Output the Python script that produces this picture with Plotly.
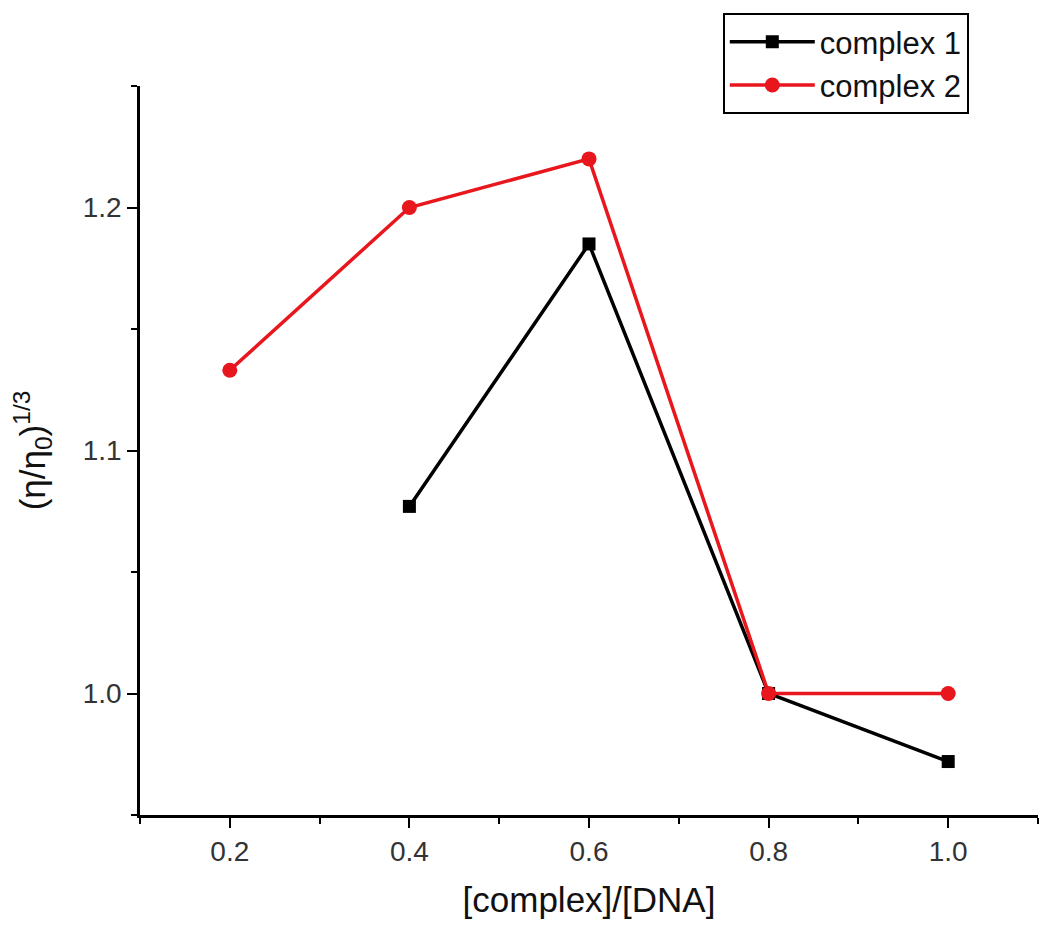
import plotly.graph_objects as go

# data
ratio_1 = [0.4, 0.6, 0.8, 1.0]
visc_1 = [1.077, 1.185, 1.0, 0.972]

ratio_2 = [0.2, 0.4, 0.6, 0.8, 1.0]
visc_2 = [1.133, 1.200, 1.220, 1.0, 1.0]

x_ticks = [0.2, 0.4, 0.6, 0.8, 1.0]
x_labels = ["0.2", "0.4", "0.6", "0.8", "1.0"]
y_ticks = [1.0, 1.1, 1.2]
y_labels = ["1.0", "1.1", "1.2"]

COLOR_1 = "#000000"
COLOR_2 = "#e8161d"
FONT = "Liberation Sans, Arial, sans-serif"

fig = go.Figure()

fig.add_trace(go.Scatter(
    x=ratio_1, y=visc_1,
    mode="lines+markers",
    name="complex 1",
    line=dict(color=COLOR_1, width=3.5),
    marker=dict(symbol="square", size=13, color=COLOR_1),
))

fig.add_trace(go.Scatter(
    x=ratio_2, y=visc_2,
    mode="lines+markers",
    name="complex 2",
    line=dict(color=COLOR_2, width=3.5),
    marker=dict(symbol="circle", size=15, color=COLOR_2),
))

axis_common = dict(
    showline=True, linecolor="black", linewidth=2.5,
    showgrid=False, zeroline=False,
    ticks="outside", ticklen=10, tickwidth=2, tickcolor="black",
    tickfont=dict(family=FONT, size=28, color="#333"),
)

fig.update_layout(
    width=1050, height=932,
    paper_bgcolor="white",
    plot_bgcolor="white",
    font=dict(family=FONT, color="#111"),
    margin=dict(l=132, r=20, t=78, b=125, autoexpand=False),
    xaxis=dict(
        **axis_common,
        range=[0.1, 1.1],
        tickvals=x_ticks, ticktext=x_labels,
        minor=dict(ticks="outside", ticklen=6, tickwidth=2, tickcolor="black",
                   tick0=0.1, dtick=0.1),
        title=dict(text="[complex]/[DNA]", font=dict(family=FONT, size=35), standoff=22),
    ),
    yaxis=dict(
        **axis_common,
        range=[0.95, 1.25],
        tickvals=y_ticks, ticktext=y_labels,
        minor=dict(ticks="outside", ticklen=6, tickwidth=2, tickcolor="black",
                   tick0=0.95, dtick=0.05),
        title=dict(text="(η/η<sub>0</sub>)<sup>1/3</sup>", font=dict(family=FONT, size=35), standoff=34),
    ),
    legend=dict(
        x=0.649, y=1.1, xanchor="left", yanchor="top",
        bordercolor="black", borderwidth=2, bgcolor="white",
        font=dict(family=FONT, size=31, color="#111"),
        itemwidth=85,
        entrywidth=175,
        tracegroupgap=0,
    ),
)

fig.write_html("out.html")
